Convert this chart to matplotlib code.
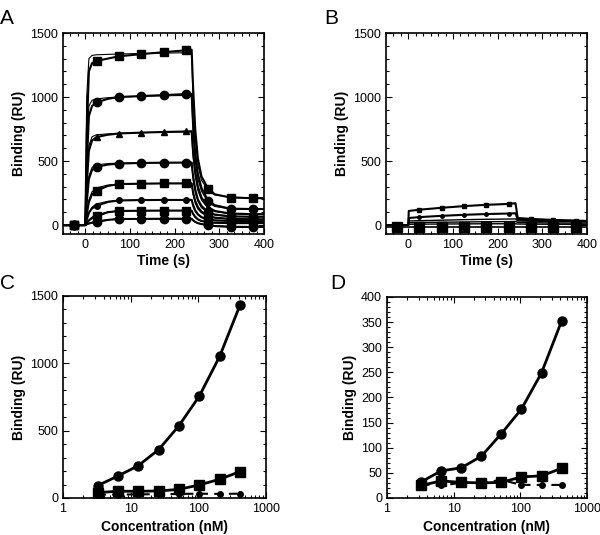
# Sensorgrams (A, B) and dose-response curves (C, D)

import matplotlib
matplotlib.use("Agg")
import matplotlib.pyplot as plt
from matplotlib.ticker import AutoMinorLocator, FormatStrFormatter, LogLocator, NullFormatter

plt.rcParams['font.family'] = ['Liberation Sans', 'DejaVu Sans']

# Panel A: time points and responses (data lines + thin fit lines)
t_a = [-50, -25, 0, 3, 8, 15, 25, 50, 75, 125, 175, 225, 238, 241, 246, 252, 260, 275, 290, 325, 375, 400]
a1 = [0, 0, 0, 700, 1200, 1265, 1282, 1300, 1318, 1335, 1350, 1365, 1370, 1100, 750, 520, 380, 285, 240, 215, 210, 210]
a2 = [0, 0, 0, 450, 850, 930, 958, 985, 1000, 1008, 1015, 1023, 1025, 800, 560, 400, 290, 190, 155, 128, 125, 125]
a3 = [0, 0, 0, 300, 580, 660, 687, 705, 715, 722, 727, 731, 733, 580, 420, 300, 215, 140, 110, 90, 85, 85]
a4 = [0, 0, 0, 170, 360, 430, 454, 472, 480, 485, 487, 488, 489, 390, 280, 200, 150, 100, 82, 68, 65, 65]
a5 = [0, 0, 0, 80, 180, 240, 268, 305, 320, 323, 325, 325, 326, 260, 190, 140, 105, 72, 58, 48, 45, 45]
a6 = [0, 0, 0, 40, 95, 130, 150, 180, 192, 195, 196, 196, 197, 160, 115, 85, 62, 44, 37, 32, 30, 30]
a7 = [0, 0, 0, 15, 35, 55, 67, 100, 110, 112, 113, 113, 113, 90, 65, 45, 32, 22, 18, 15, 15, 15]
a8 = [0, 0, 0, 5, 12, 18, 23, 40, 47, 48, 49, 49, 49, 38, 25, 15, 8, 0, -8, -15, -15, -15]

f1 = [0, 0, 0, 1000, 1300, 1325, 1330, 1333, 1336, 1340, 1343, 1346, 1348, 1000, 680, 470, 350, 270, 235, 218, 212, 212]
f2 = [0, 0, 0, 600, 930, 975, 985, 995, 1000, 1005, 1010, 1012, 1013, 740, 500, 360, 265, 175, 145, 125, 122, 122]
f3 = [0, 0, 0, 380, 620, 690, 705, 712, 717, 722, 725, 727, 728, 540, 380, 270, 195, 130, 105, 88, 85, 85]
f4 = [0, 0, 0, 200, 380, 450, 470, 480, 484, 486, 487, 488, 488, 360, 255, 185, 135, 95, 78, 66, 64, 64]
f5 = [0, 0, 0, 90, 195, 260, 290, 312, 320, 324, 325, 326, 326, 240, 170, 125, 95, 68, 55, 47, 45, 45]
f6 = [0, 0, 0, 45, 100, 140, 165, 185, 192, 195, 196, 197, 197, 145, 105, 78, 58, 42, 35, 31, 30, 30]
f7 = [0, 0, 0, 18, 40, 62, 80, 102, 110, 112, 113, 113, 113, 82, 58, 42, 30, 20, 17, 15, 15, 15]
f8 = [0, 0, 0, 6, 14, 22, 30, 42, 47, 48, 49, 49, 49, 35, 22, 13, 6, 0, -5, -10, -12, -12]

# Panel B: control surface
t_b = [-50, -25, 0, 1, 25, 75, 125, 175, 225, 238, 240, 245, 275, 325, 375, 400]
b1 = [0, 0, 0, 110, 120, 135, 148, 158, 165, 170, 170, 55, 48, 40, 35, 32]
b2 = [0, 0, 0, 55, 62, 72, 80, 86, 90, 92, 92, 42, 38, 35, 32, 30]
b3 = [0, 0, 0, 32, 34, 38, 42, 45, 47, 48, 48, 32, 30, 28, 26, 25]
b4 = [0, 0, 0, 18, 20, 22, 24, 26, 27, 28, 28, 20, 18, 16, 15, 15]
b5 = [0, 0, 0, 6, 7, 8, 9, 10, 10, 10, 10, 8, 7, 6, 5, 5]
b6 = [-15, -15, -15, -15, -15, -15, -15, -15, -15, -15, -15, -15, -15, -15, -15, -15]

# Panels C and D: binding vs concentration
conc = [3.25, 6.5, 13, 26, 52, 104, 208, 416]
c_circ = [92, 163, 240, 359, 537, 757, 1052, 1433]
c_sq = [40, 50, 50, 52, 64, 97, 139, 196]
c_dash = [25, 25, 27, 28, 30, 32, 30, 32]
d_circ = [32, 54, 60, 83, 128, 177, 249, 352]
d_sq = [25, 34, 31, 30, 31, 42, 44, 59]
d_dash = [27, 25, 30, 30, 36, 26, 26, 26]

fig = plt.figure(figsize=(6, 5.35), dpi=100)
ax_a = fig.add_axes([0.105, 0.5626, 0.335, 0.3757])
ax_b = fig.add_axes([0.6433, 0.5626, 0.335, 0.3757])
ax_c = fig.add_axes([0.105, 0.0692, 0.338, 0.3776])
ax_d = fig.add_axes([0.645, 0.0692, 0.3333, 0.3757])


def style_axis(ax):
    ax.tick_params(which='both', direction='in', top=True, right=True, labelsize=9, width=0.8)
    ax.tick_params(which='major', length=4)
    ax.tick_params(which='minor', length=2)
    for sp in ax.spines.values():
        sp.set_linewidth(1.2)


# A: sensorgrams on the specific surface
marks_a = [1, 6, 8, 9, 10, 11, 17, 19, 20]
data_a = [(a8, f8, 'o', 6), (a7, f7, 's', 6), (a6, f6, 'o', 4), (a5, f5, 's', 6),
          (a4, f4, 'o', 6), (a3, f3, '^', 5), (a2, f2, 'o', 6), (a1, f1, 's', 6)]
for ys, fs, mk, ms in data_a:
    ax_a.plot(t_a, fs, color='black', lw=0.8)
    ax_a.plot(t_a, ys, color='black', lw=1.5, marker=mk, ms=ms, markevery=marks_a)

# B: control surface
ax_b.plot(t_b, b6, color='black', lw=1.2, marker='s', ms=6.5, markevery=[1, 4, 5, 6, 7, 8, 12, 13, 14])
for ys in [b5, b4, b3]:
    ax_b.plot(t_b, ys, color='black', lw=1.0)
ax_b.plot(t_b, b2, color='black', lw=1.5, marker='o', ms=2.5, markevery=[4, 5, 6, 7, 8, 12, 13, 14])
ax_b.plot(t_b, b1, color='black', lw=1.5, marker='s', ms=3, markevery=[4, 5, 6, 7, 8, 12, 13, 14])

for ax in [ax_a, ax_b]:
    ax.set_xlim(-50, 400)
    ax.set_ylim(-70, 1500)
    ax.set_xticks([0, 100, 200, 300, 400])
    ax.set_yticks([0, 500, 1000, 1500])
    ax.xaxis.set_minor_locator(AutoMinorLocator(6))
    ax.yaxis.set_minor_locator(AutoMinorLocator(5))
    ax.set_xlabel('Time (s)', fontsize=10, fontweight='bold', labelpad=2)
    ax.set_ylabel('Binding (RU)', fontsize=10, fontweight='bold', labelpad=3)
    style_axis(ax)

# C and D: dose response
for ax, yc, ys, yd in [(ax_c, c_circ, c_sq, c_dash), (ax_d, d_circ, d_sq, d_dash)]:
    ax.plot(conc, yd, color='black', lw=1.5, ls=(0, (4, 3)), marker='o', ms=4)
    ax.plot(conc, ys, color='black', lw=2, marker='s', ms=6.5)
    ax.plot(conc, yc, color='black', lw=2, marker='o', ms=6.5)
    ax.set_xscale('log')
    ax.set_xlim(1, 1000)
    ax.xaxis.set_major_formatter(FormatStrFormatter('%g'))
    ax.xaxis.set_minor_locator(LogLocator(base=10, subs=range(2, 10)))
    ax.xaxis.set_minor_formatter(NullFormatter())
    ax.yaxis.set_minor_locator(AutoMinorLocator(5))
    ax.set_xlabel('Concentration (nM)', fontsize=10, fontweight='bold', labelpad=4)
    ax.set_ylabel('Binding (RU)', fontsize=10, fontweight='bold', labelpad=3)
    style_axis(ax)

ax_c.set_ylim(0, 1500)
ax_c.set_yticks([0, 500, 1000, 1500])
ax_d.set_ylim(0, 400)
ax_d.set_yticks([0, 50, 100, 150, 200, 250, 300, 350, 400])

# Panel letters
for x, y, s in [(0.0, 0.965, 'A'), (0.54, 0.965, 'B'), (0.0, 0.47, 'C'), (0.55, 0.47, 'D')]:
    fig.text(x, y, s, fontsize=15, va='center', ha='left')

plt.savefig("out.png", dpi=100)
